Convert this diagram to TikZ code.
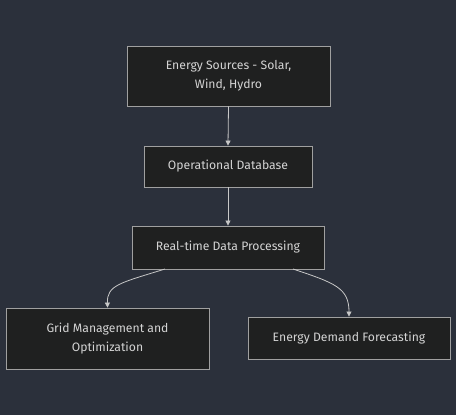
\documentclass[tikz,border=0pt]{standalone}
\usepackage{fontspec}
\setmainfont{Fira Sans}
\usetikzlibrary{arrows.meta}
\definecolor{bg}{HTML}{2B303B}
\definecolor{boxfill}{HTML}{1F2020}
\definecolor{boxline}{HTML}{A0A0A0}
\definecolor{txt}{HTML}{D4D4D4}
\definecolor{edge}{HTML}{C8C8C8}
\tikzset{
  box/.style={draw=boxline, fill=boxfill, line width=0.9pt, text=txt, font=\fontsize{12.2}{19}\selectfont, align=center, inner sep=0pt},
  conn/.style={draw=edge, line width=0.8pt, -{Triangle[length=5pt,width=5pt]}}
}
\begin{document}
\begin{tikzpicture}[x=1pt,y=-1pt]
\fill[bg] (0,0) rectangle (456,415);
\useasboundingbox (0,0) rectangle (456,415);
\node[box, minimum width=203pt, minimum height=60pt] (src) at (228.5,76) {Energy Sources - Solar,\\Wind, Hydro};
\node[box, minimum width=168pt, minimum height=41pt] (db) at (228,166.5) {Operational Database};
\node[box, minimum width=192pt, minimum height=43pt] (rt) at (228,247.5) {Real-time Data Processing};
\node[box, minimum width=203pt, minimum height=61pt] (grid) at (107.5,338.5) {Grid Management and\\Optimization};
\node[box, minimum width=202pt, minimum height=42pt] (fc) at (349,338) {Energy Demand Forecasting};
\draw[conn] (src.south) -- (db.north);
\draw[conn] (db.south) -- (rt.north);
\coordinate (a1) at (165,269);
\coordinate (b1) at (293,269);
\draw[conn] (a1) .. controls (120,283) and (107,285) .. (grid.north);
\draw[conn] (b1) .. controls (335,283) and (349,288) .. (fc.north);
\end{tikzpicture}
\end{document}
